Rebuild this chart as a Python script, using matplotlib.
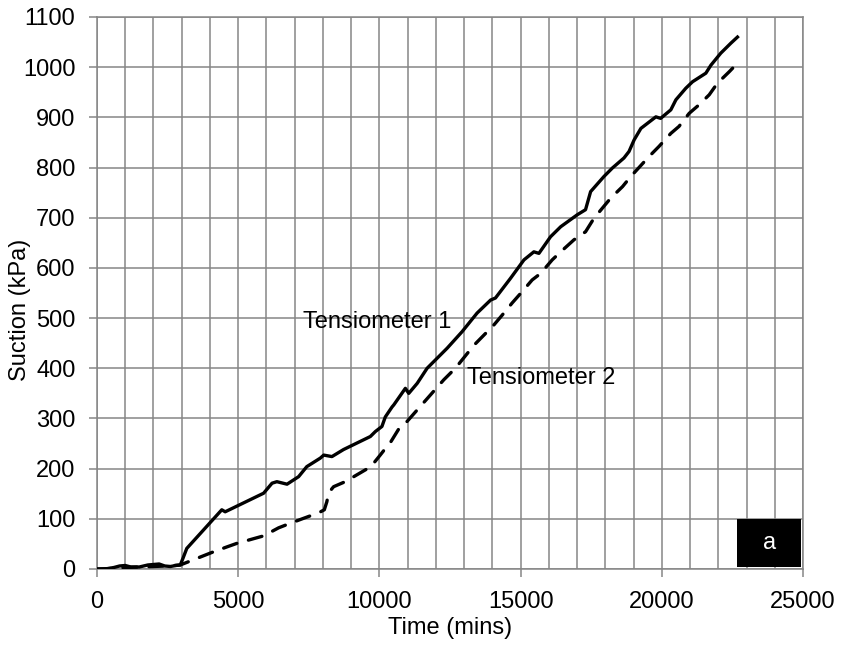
import matplotlib
matplotlib.use('Agg')
import matplotlib.pyplot as plt
from matplotlib.patches import Rectangle
from matplotlib.ticker import MultipleLocator

plt.rcParams['font.family'] = ['Liberation Sans', 'DejaVu Sans']

# Tensiometer 1 (solid)
t1_time = [0, 300, 600, 800, 1000, 1200, 1500, 1800, 2000, 2200, 2400, 2600, 2800, 2950,
           3050, 3180, 4420, 4540, 5900, 6200, 6370, 6730, 7140, 7430, 7910, 8030, 8320,
           8730, 9680, 9860, 10090, 10210, 10450, 10510, 10920, 11040, 11340, 11690,
           12400, 12930, 13460, 13940, 14110, 14640, 15120, 15470, 15650, 16060, 16420,
           17010, 17300, 17480, 17950, 18250, 18660, 18840, 19020, 19260, 19790, 19960,
           20320, 20500, 20850, 21090, 21560, 21740, 22090, 22450, 22680]
t1_suction = [0, 0, 3, 6, 7, 4, 4, 8, 9, 10, 6, 5, 7, 8,
              22, 41, 118, 114, 151, 171, 174, 169, 184, 204, 221, 227, 224,
              238, 264, 274, 284, 303, 323, 327, 360, 350, 370, 400,
              440, 473, 510, 536, 540, 579, 616, 632, 629, 662, 682,
              706, 716, 752, 782, 799, 819, 832, 855, 878, 901, 898,
              915, 935, 958, 971, 988, 1004, 1028, 1048, 1060]

# Tensiometer 2 (dashed)
t2_time = [0, 500, 1000, 1500, 2000, 2500, 2950, 4070, 4600, 4950, 5900, 6430, 6840,
           7316, 7850, 8050, 8140, 8200, 8320, 8380, 8790, 9700, 10030, 10210, 10390,
           10740, 10980, 12280, 12690, 13350, 14050, 14350, 14700, 15060, 15410, 15710,
           16120, 16420, 16890, 17300, 17600, 18190, 18610, 18900, 19550, 19900, 20320,
           20610, 20970, 21320, 21680, 21970, 22390, 22680]
t2_suction = [0, 1, 3, 4, 5, 6, 8, 33, 44, 51, 66, 82, 91,
              101, 112, 118, 134, 151, 160, 164, 174, 204, 227, 240, 252,
              284, 294, 377, 400, 446, 486, 506, 530, 553, 576, 589,
              616, 632, 656, 672, 699, 739, 762, 782, 822, 842, 868,
              882, 908, 925, 945, 968, 991, 1008]

grid_col = '#868686'
fs = 17

fig = plt.figure(figsize=(8.41, 6.46), dpi=100)
ax = fig.add_axes([0.1153, 0.1192, 0.8395, 0.8545])

ax.plot(t1_time, t1_suction, color='black', lw=2.4, solid_joinstyle='round', zorder=3)
ax.plot(t2_time, t2_suction, color='black', lw=2.4, linestyle=(0, (4.2, 3.6)),
        dash_capstyle='round', zorder=3)

ax.set_xlim(0, 25000)
ax.set_ylim(0, 1100)
ax.xaxis.set_major_locator(MultipleLocator(5000))
ax.xaxis.set_minor_locator(MultipleLocator(1000))
ax.yaxis.set_major_locator(MultipleLocator(100))

ax.grid(which='both', axis='x', color=grid_col, lw=1.1)
ax.grid(which='major', axis='y', color=grid_col, lw=1.1)
ax.set_axisbelow(True)

ax.tick_params(axis='both', which='major', direction='out', length=6, width=1.1,
               color=grid_col, labelsize=fs, pad=9.5)
ax.tick_params(axis='x', which='minor', length=0)
for s in ax.spines.values():
    s.set_color(grid_col)
    s.set_linewidth(1.1)

ax.set_xlabel('Time (mins)', fontsize=fs, labelpad=3)
ax.set_ylabel('Suction (kPa)', fontsize=fs)
ax.yaxis.set_label_coords(-0.094, 0.469)

ax.text(7300, 492, 'Tensiometer 1', fontsize=fs, va='center', ha='left')
ax.text(13100, 380, 'Tensiometer 2', fontsize=fs, va='center', ha='left')

ax.add_patch(Rectangle((0.907, 0.003), 0.09, 0.088, transform=ax.transAxes,
                       facecolor='black', edgecolor='none', zorder=4))
ax.text(0.952, 0.047, 'a', transform=ax.transAxes, color='white', fontsize=fs,
        ha='center', va='center', zorder=5)

fig.savefig('out.png', dpi=100)
